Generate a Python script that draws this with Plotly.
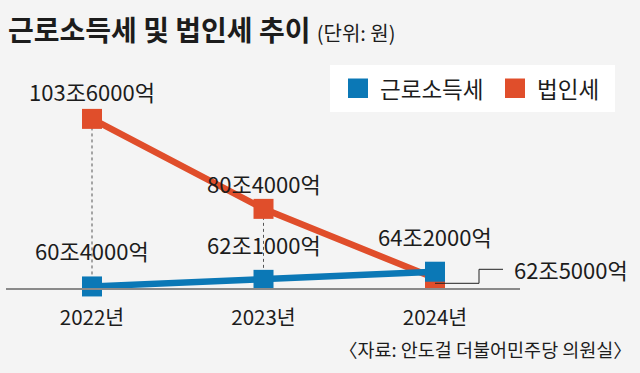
import plotly.graph_objects as go

# ---- data ----
years = ["2022년", "2023년", "2024년"]
labor_tax = [60.4, 62.1, 64.2]      # 근로소득세 (조원)
corp_tax = [103.6, 80.4, 62.5]      # 법인세 (조원)
series_names = ["근로소득세", "법인세"]
title_text = "근로소득세 및 법인세 추이"
unit_text = "(단위: 원)"
source_text = "〈자료: 안도걸 더불어민주당 의원실〉"

BLUE = "#0b78b6"
RED = "#e04e2b"
BG = "#f4f4f4"
TXT = "#1c1c1c"
FONT = "Noto Sans CJK KR"

W, H = 640, 373
L, R, T, B = 6, 120, 100, 85
PW, PH = W - L - R, H - T - B


def px_x(p):
    return (p - L) / PW


def px_y(p):
    return (H - B - p) / PH


def fmt(v):
    jo = int(v)
    eok = int(round((v - jo) * 10000))
    return f"{jo}조{eok}억"


xs = list(range(len(years)))

fig = go.Figure()
fig.add_trace(go.Scatter(
    x=xs, y=corp_tax, mode="lines+markers", name=series_names[1],
    line=dict(color=RED, width=6.5),
    marker=dict(symbol="square", size=20, color=RED, line=dict(width=0)),
    cliponaxis=False, showlegend=False, hoverinfo="skip"))
fig.add_trace(go.Scatter(
    x=xs, y=labor_tax, mode="lines+markers", name=series_names[0],
    line=dict(color=BLUE, width=6.5),
    marker=dict(symbol="square", size=20, color=BLUE, line=dict(width=0)),
    cliponaxis=False, showlegend=False, hoverinfo="skip"))

shapes = []
# dashed guides from corporate marker down to labor marker (first two years)
for i in range(2):
    shapes.append(dict(type="line", xref="x", yref="y", x0=xs[i], x1=xs[i],
                       y0=labor_tax[i], y1=corp_tax[i], layer="below",
                       line=dict(color="#555555", width=1, dash="3px,3px")))

# leader line for last corporate value
sx = 171.5
sy = 188 / (108.466 - 60)
lx1 = xs[2] + (479 - 435) / sx
lx2 = xs[2] + (503 - 435) / sx
ly1 = 60 + (288 - 283.3) / sy
ly2 = 60 + (288 - 269.3) / sy
shapes.append(dict(type="path", xref="x", yref="y", layer="above",
                   path=f"M {xs[2]},{ly1} L {lx1},{ly1} L {lx1},{ly2} L {lx2},{ly2}",
                   line=dict(color="#222222", width=1)))

# legend box
shapes.append(dict(type="rect", xref="paper", yref="paper",
                   x0=px_x(330), x1=px_x(615), y0=px_y(112), y1=px_y(65),
                   fillcolor="white", line=dict(width=0), layer="below"))
shapes.append(dict(type="rect", xref="paper", yref="paper",
                   x0=px_x(348), x1=px_x(368), y0=px_y(98), y1=px_y(78.5),
                   fillcolor=BLUE, line=dict(width=0)))
shapes.append(dict(type="rect", xref="paper", yref="paper",
                   x0=px_x(505), x1=px_x(525), y0=px_y(98), y1=px_y(78.5),
                   fillcolor=RED, line=dict(width=0)))

annotations = []
# legend texts
annotations.append(dict(xref="paper", yref="paper", x=px_x(378), y=px_y(88),
                        text=series_names[0], showarrow=False, xanchor="left",
                        yanchor="middle", font=dict(family=FONT, size=22.5, color=TXT)))
annotations.append(dict(xref="paper", yref="paper", x=px_x(535), y=px_y(88),
                        text=series_names[1], showarrow=False, xanchor="left",
                        yanchor="middle", font=dict(family=FONT, size=22.5, color=TXT)))

LBL = 22
# value labels
corp_shift = [27.5, 25.5, None]
for i, v in enumerate(corp_tax):
    if corp_shift[i] is not None:
        annotations.append(dict(x=xs[i], y=v, text=fmt(v), showarrow=False,
                                yshift=corp_shift[i], xanchor="center", yanchor="middle",
                                font=dict(family=FONT, size=LBL, color=TXT)))
    else:
        annotations.append(dict(x=lx2, y=ly2, text=fmt(v), showarrow=False,
                                xshift=9, yshift=0, xanchor="left", yanchor="middle",
                                font=dict(family=FONT, size=LBL, color=TXT)))
for i, v in enumerate(labor_tax):
    annotations.append(dict(x=xs[i], y=v, text=fmt(v), showarrow=False,
                            yshift=36, xanchor="center", yanchor="middle",
                            font=dict(family=FONT, size=LBL, color=TXT)))

# source
annotations.append(dict(xref="paper", yref="paper", x=px_x(634), y=px_y(349),
                        text=source_text, showarrow=False, xanchor="right",
                        yanchor="middle", font=dict(family=FONT, size=18.5, color=TXT)))

fig.update_layout(
    width=W, height=H,
    margin=dict(l=L, r=R, t=T, b=B, pad=0),
    paper_bgcolor=BG, plot_bgcolor=BG,
    title=dict(text=f"<b>{title_text}</b> <span style='font-size:20px;font-weight:normal'>{unit_text}</span>",
               x=8 / W, xref="container", xanchor="left",
               y=1 - 31 / H, yref="container", yanchor="middle",
               font=dict(family=FONT, size=28, color=TXT)),
    shapes=shapes, annotations=annotations,
    xaxis=dict(range=[-0.5015, 2.4956], tickvals=xs, ticktext=years,
               showgrid=False, zeroline=False, showline=True,
               linecolor="#8a8a8a", linewidth=1.5, ticks="",
               ticklabelstandoff=11,
               tickfont=dict(family=FONT, size=20.5, color=TXT)),
    yaxis=dict(range=[60, 108.466], visible=False, showgrid=False, zeroline=False),
    showlegend=False,
)

fig.write_html("out.html", config={"displayModeBar": False},
               post_script="document.body.style.margin='0';document.body.style.padding='0';document.body.style.background='" + BG + "';")
